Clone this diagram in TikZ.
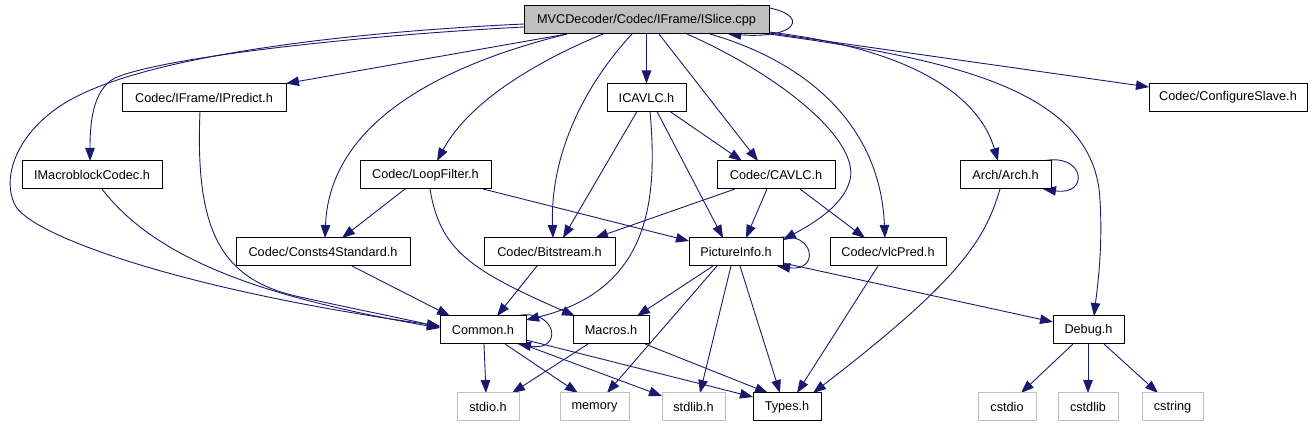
\documentclass[tikz,border=0pt]{standalone}
\usepackage{fontspec}
\setmainfont{Liberation Sans}
\usetikzlibrary{arrows.meta,calc}
\definecolor{navy}{HTML}{191970}
\definecolor{slicegray}{HTML}{BFBFBF}
\definecolor{sysgray}{HTML}{C0C0C0}
\pgfdeclarelayer{bg}
\pgfsetlayers{bg,main}
\begin{document}
\begin{tikzpicture}[x=1pt,y=-1pt,
  box/.style={draw=black, line width=1pt, fill=white, minimum height=28pt, inner sep=0pt, outer sep=0pt,
    font=\fontsize{12.7}{14}\selectfont},
  sysbox/.style={box, draw=sysgray},
  dep/.style={draw=navy, line width=0.9pt, -{Triangle[length=13pt,width=9.5pt]}}]
\useasboundingbox (0,0) rectangle (1312,427);
% nodes
\node[box, fill=slicegray, minimum width=245pt] (ISlice) at (646.5,20) {MVCDecoder/Codec/IFrame/ISlice.cpp};
\node[box, minimum width=164pt] (IPredict) at (204,97.5) {Codec/IFrame/IPredict.h};
\node[box, minimum width=79pt] (ICAVLC) at (646.5,97.5) {ICAVLC.h};
\node[box, minimum width=158pt] (ConfigSlave) at (1228,97.5) {Codec/ConfigureSlave.h};
\node[box, minimum width=140pt] (IMacro) at (92,175) {IMacroblockCodec.h};
\node[box, minimum width=131pt] (LoopFilter) at (425.5,175) {Codec/LoopFilter.h};
\node[box, minimum width=118pt] (CAVLC) at (776,175) {Codec/CAVLC.h};
\node[box, minimum width=91pt] (Arch) at (1005.5,175) {Arch/Arch.h};
\node[box, minimum width=174pt] (Consts) at (323,252) {Codec/Consts4Standard.h};
\node[box, minimum width=131pt] (Bitstream) at (549.5,252) {Codec/Bitstream.h};
\node[box, minimum width=94pt] (PictureInfo) at (736,252) {PictureInfo.h};
\node[box, minimum width=116pt] (vlcPred) at (888,252) {Codec/vlcPred.h};
\node[box, minimum width=86pt] (Common) at (483,330) {Common.h};
\node[box, minimum width=76pt] (Macros) at (611,330) {Macros.h};
\node[box, minimum width=71pt] (Debug) at (1088.5,330) {Debug.h};
\node[sysbox, minimum width=62pt] (stdio) at (488,407) {stdio.h};
\node[sysbox, minimum width=69pt] (memory) at (594.5,407) {memory};
\node[sysbox, minimum width=63pt] (stdlib) at (693.5,407) {stdlib.h};
\node[box, minimum width=68pt] (Types) at (787,407) {Types.h};
\node[sysbox, minimum width=58pt] (cstdio) at (1007,407) {cstdio};
\node[sysbox, minimum width=60pt] (cstdlib) at (1088,407) {cstdlib};
\node[sysbox, minimum width=61pt] (cstring) at (1172.5,407) {cstring};

\begin{pgfonlayer}{bg}
% ISlice
\draw[dep] ($(ISlice.north)+(76.5,0)$) .. controls (810,0) and (815,40) .. ($(ISlice.south)+(81.5,0)$);
\draw[dep] ($(ISlice.west)+(0,4)$) .. controls (350,32) and (150,55) .. (70,100) .. controls (20,128) and (0,175) .. (15,205) .. controls (30,235) and (180,290) .. ($(Common.west)+(0,-4)$);
\draw[dep] ($(ISlice.west)+(0,7)$) .. controls (350,36) and (160,58) .. (115,78) .. controls (92,90) and (90,125) .. ($(IMacro.north)+(-2,0)$);
\draw[dep] ($(ISlice.south)+(-79.5,0)$) -- (IPredict.north east);
\draw[dep] ($(ISlice.south)+(-79.5,0)$) .. controls (470,58) and (330,110) .. ($(Consts.north)+(2,0)$);
\draw[dep] ($(ISlice.south)+(-43.5,0)$) .. controls (540,60) and (470,100) .. ($(LoopFilter.north)+(11.5,0)$);
\draw[dep] ($(ISlice.south)+(-14.5,0)$) .. controls (580,90) and (550,160) .. ($(Bitstream.north)+(3.5,0)$);
\draw[dep] (ISlice.south) -- (ICAVLC.north);
\draw[dep] ($(ISlice.south)+(12.5,0)$) -- ($(CAVLC.north)+(-18,0)$);
\draw[dep] ($(ISlice.south)+(40.5,0)$) .. controls (780,75) and (860,140) .. (850,180) .. controls (843,207) and (810,225) .. ($(PictureInfo.north east)+(0,2)$);
\draw[dep] ($(ISlice.south)+(63.5,0)$) .. controls (800,60) and (880,120) .. ($(vlcPred.north)+(-3,0)$);
\draw[dep] ($(ISlice.east)+(0,12)$) .. controls (920,50) and (980,100) .. ($(Arch.north)+(-7.5,0)$);
\draw[dep] ($(ISlice.east)+(0,14)$) .. controls (960,60) and (1095,92) .. (1100,200) .. controls (1103,250) and (1097,290) .. ($(Debug.north)+(5.5,0)$);
\draw[dep] ($(ISlice.east)+(0,13)$) -- ($(ConfigSlave.west)+(0,-10.5)$);
% ICAVLC
\draw[dep] ($(ICAVLC.south)+(-9.5,0)$) -- ($(Bitstream.north)+(13.5,0)$);
\draw[dep] ($(ICAVLC.south)+(3.5,0)$) .. controls (658,200) and (650,290) .. ($(Common.north east)+(0,4)$);
\draw[dep] ($(ICAVLC.south)+(10.5,0)$) -- ($(PictureInfo.north)+(-13,0)$);
\draw[dep] ($(ICAVLC.south)+(23.5,0)$) -- ($(CAVLC.north)+(-34,0)$);
% CAVLC
\draw[dep] ($(CAVLC.south)+(-41,0)$) -- ($(Bitstream.north)+(45.5,0)$);
\draw[dep] ($(CAVLC.south)+(-9,0)$) -- ($(PictureInfo.north)+(10,0)$);
\draw[dep] ($(CAVLC.south)+(24,0)$) -- ($(vlcPred.north)+(-23,0)$);
% LoopFilter
\draw[dep] ($(LoopFilter.south)+(-20.5,0)$) -- ($(Consts.north)+(19,0)$);
\draw[dep] ($(LoopFilter.south)+(57.5,0)$) -- ($(PictureInfo.north west)+(0,3)$);
\draw[dep] ($(LoopFilter.south)+(4.5,0)$) .. controls (440,250) and (470,270) .. ($(Macros.north west)+(2,0)$);
% into Common
\draw[dep] ($(IPredict.south)+(-4,0)$) .. controls (195,230) and (220,280) .. (300,297) .. controls (350,308) and (400,318) .. ($(Common.west)+(0,-3)$);
\draw[dep] ($(IMacro.south)+(10,0)$) .. controls (160,265) and (280,300) .. ($(Common.west)+(0,-2)$);
\draw[dep] ($(Consts.south)+(29,0)$) -- ($(Common.north west)+(10,0)$);
\draw[dep] ($(Bitstream.south)+(-12.5,0)$) -- ($(Common.north)+(14,0)$);
% self loops
\draw[dep] ($(Common.north east)+(-10,0)$) .. controls (557,307) and (564,352) .. ($(Common.south east)+(-8,0)$);
\draw[dep] ($(PictureInfo.north east)+(-6,0)$) .. controls (815,230) and (820,272) .. ($(PictureInfo.south east)+(-6,0)$);
\draw[dep] ($(Arch.north east)+(-8,0)$) .. controls (1085,152) and (1090,196) .. ($(Arch.south east)+(-8,0)$);
% PictureInfo
\draw[dep] ($(PictureInfo.south)+(-23,0)$) -- ($(Macros.north)+(26,0)$);
\draw[dep] ($(PictureInfo.south)+(-19,0)$) -- ($(memory.north)+(12.5,0)$);
\draw[dep] ($(PictureInfo.south)+(-5,0)$) -- ($(stdlib.north)+(6.5,0)$);
\draw[dep] ($(PictureInfo.south)+(4,0)$) -- ($(Types.north)+(-7,0)$);
\draw[dep] ($(PictureInfo.east)+(0,11)$) -- ($(Debug.west)+(0,-8)$);
% vlcPred, Arch
\draw[dep] ($(vlcPred.south)+(-10,0)$) -- ($(Types.north)+(10,0)$);
\draw[dep] ($(Arch.south)+(-5.5,0)$) .. controls (985,240) and (960,280) .. ($(Types.north)+(26,0)$);
% Common
\draw[dep] ($(Common.south)+(1,0)$) -- ($(stdio.north)+(-2,0)$);
\draw[dep] ($(Common.south)+(22,0)$) -- ($(memory.north)+(-16.5,0)$);
\draw[dep] ($(Common.south east)+(-4,0)$) -- ($(stdlib.north west)+(0,3)$);
\draw[dep] ($(Common.east)+(0,10)$) -- ($(Types.north west)+(0,4)$);
% Macros
\draw[dep] ($(Macros.south)+(-23,0)$) -- ($(stdio.north)+(24,0)$);
\draw[dep] ($(Macros.south)+(34,0)$) -- ($(Types.north)+(-19,0)$);
% Debug
\draw[dep] ($(Debug.south)+(-15.5,0)$) -- ($(cstdio.north)+(14,0)$);
\draw[dep] ($(Debug.south)+(-0.5,0)$) -- (cstdlib.north);
\draw[dep] ($(Debug.south)+(15.5,0)$) -- ($(cstring.north)+(-14.5,0)$);
\end{pgfonlayer}
\end{tikzpicture}
\end{document}
